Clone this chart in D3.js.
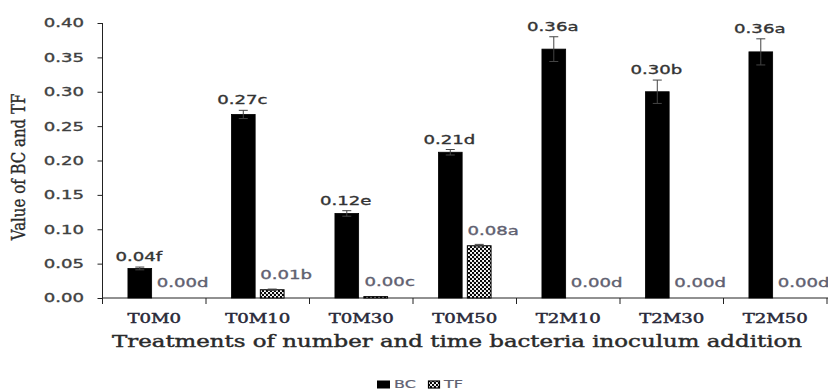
<!DOCTYPE html>
<html><head><meta charset="utf-8">
<script src="https://cdn.jsdelivr.net/npm/d3@7"></script>
<style>html,body{margin:0;padding:0;background:#fff;}svg{display:block;}</style>
</head><body>
<svg id="chart" width="828" height="392"></svg>
<script>
const categories = ["T0M0","T0M10","T0M30","T0M50","T2M10","T2M30","T2M50"];
const seriesNames = ["BC","TF"];
const bcValues = [0.043, 0.267, 0.123, 0.212, 0.362, 0.300, 0.358];
const bcErrors = [0.002, 0.006, 0.004, 0.004, 0.018, 0.017, 0.019];
const tfValues = [0, 0.012, 0.002, 0.076, 0, 0, 0];
const tfErrors = [0, 0.001, 0, 0.002, 0, 0, 0];
const bcLabels = ["0.04f","0.27c","0.12e","0.21d","0.36a","0.30b","0.36a"];
const tfLabels = ["0.00d","0.01b","0.00c","0.08a","0.00d","0.00d","0.00d"];
const yTicks = [0,0.05,0.10,0.15,0.20,0.25,0.30,0.35,0.40];
const xTitle = "Treatments of number and time bacteria inoculum addition";
const yTitle = "Value of BC and TF";

const SX = 1.45;
const svg = d3.select("#chart");
const defs = svg.append("defs");
const pat = defs.append("pattern").attr("id","dots").attr("patternUnits","userSpaceOnUse")
  .attr("width",4).attr("height",4);
pat.append("rect").attr("width",4).attr("height",4).attr("fill","#fff");
pat.append("circle").attr("cx",1).attr("cy",1).attr("r",1.2).attr("fill","#000");
pat.append("circle").attr("cx",3).attr("cy",3).attr("r",1.2).attr("fill","#000");

const x0 = d3.scaleBand().domain(categories).range([102.5, 827]).padding(0);
const x1 = d3.scaleBand().domain(seriesNames).range([0, x0.bandwidth()]).paddingInner(0.18).paddingOuter(0.88);
const y = d3.scaleLinear().domain([0, 0.4]).range([298, 23]);

function stext(g, x, yy, txt, opts) {
  const fill = opts.fill || "#404040";
  const t = g.append("text")
    .attr("transform", `translate(${x},${yy}) scale(${opts.sx||SX},1)` + (opts.rot ? ` rotate(${opts.rot})` : ""))
    .attr("text-anchor", opts.anchor || "middle")
    .attr("font-family", opts.family || "DejaVu Sans, sans-serif")
    .attr("font-size", opts.size || 13)
    .attr("fill", fill)
    .attr("stroke", fill).attr("stroke-width", opts.sw == null ? 0.35 : opts.sw)
    .text(txt);
  if (opts.dy) t.attr("dy", opts.dy);
  return t;
}

// Y axis
const yAxis = d3.axisLeft(y).tickValues(yTicks).tickSize(5).tickFormat(() => "");
const gy = svg.append("g").attr("transform","translate(102.5,0)").call(yAxis);
gy.select(".domain").attr("stroke","#222").attr("d","M0,23V298");
gy.selectAll(".tick line").attr("stroke","#222");
yTicks.forEach(v => stext(svg, 84, y(v), d3.format(".2f")(v), {anchor:"end", size:12.5, dy:"0.35em", fill:"#404040"}));

// X axis
const xAxis = d3.axisBottom(x0).tickSize(0).tickFormat(() => "");
const gx = svg.append("g").attr("transform","translate(0,298)").call(xAxis);
gx.select(".domain").attr("stroke","#222").attr("d","M102.5,0H828");
const bounds = categories.map(c => x0(c)).concat([x0.range()[1]]);
gx.selectAll(".bnd").data(bounds).join("line").attr("class","bnd")
  .attr("x1",d=>d).attr("x2",d=>d).attr("y1",0).attr("y2",6).attr("stroke","#222");
categories.forEach(c => stext(svg, x0(c)+x0.bandwidth()/2, 323, c, {family:"DejaVu Serif, serif", size:12.5, fill:"#2a2a3a", sw:0.45}));

// titles
stext(svg, 457, 346.5, xTitle, {family:"DejaVu Serif, serif", size:15.8, fill:"#2a2a2a", sw:0.4});
stext(svg, 25, 167, yTitle, {family:"DejaVu Serif, serif", size:15, fill:"#2a2a2a", rot:-90, sx:1.2, sw:0.3});

// bars
const data = categories.map((c,i) => ({c, bc:bcValues[i], bce:bcErrors[i], tf:tfValues[i], tfe:tfErrors[i], bl:bcLabels[i], tl:tfLabels[i]}));
const g = svg.append("g");
data.forEach(d => {
  const bx = x0(d.c) + x1("BC"), tx = x0(d.c) + x1("TF"), w = x1.bandwidth();
  g.append("rect").attr("x",bx).attr("y",y(d.bc)).attr("width",w).attr("height",y(0)-y(d.bc))
    .attr("fill","#000").attr("stroke","#000").attr("stroke-width",0.8);
  if (d.tf > 0) {
    g.append("rect").attr("x",tx).attr("y",y(d.tf)).attr("width",w).attr("height",y(0)-y(d.tf))
      .attr("fill","url(#dots)").attr("stroke","#000").attr("stroke-width",1);
  }
  [[bx, d.bc, d.bce],[tx, d.tf, d.tfe]].forEach(([xx, v, e]) => {
    if (e <= 0) return;
    const cx = xx + w/2;
    g.append("line").attr("x1",cx).attr("x2",cx).attr("y1",y(v+e)).attr("y2",y(v-e)).attr("stroke","#444").attr("stroke-width",1);
    [v+e, v-e].forEach(vv => g.append("line").attr("x1",cx-4.5).attr("x2",cx+4.5).attr("y1",y(vv)).attr("y2",y(vv)).attr("stroke","#444").attr("stroke-width",1));
  });
  stext(svg, bx + w/2 - 1, y(d.bc + d.bce) - 6, d.bl, {size:12.5, fill:"#333"});
  stext(svg, tx + w/2 + 14, y(d.tf) - 11, d.tl, {size:12.5, fill:"#606070"});
});

// legend
svg.append("rect").attr("x",377).attr("y",380.5).attr("width",13).attr("height",8).attr("fill","#000");
stext(svg, 394, 388, "BC", {anchor:"start", size:11, fill:"#606070", sw:0.2});
svg.append("rect").attr("x",428.5).attr("y",381).attr("width",11).attr("height",7).attr("fill","url(#dots)").attr("stroke","#000").attr("stroke-width",1.2);
stext(svg, 444, 388, "TF", {anchor:"start", size:11, fill:"#606070", sw:0.2});
</script>
</body></html>
